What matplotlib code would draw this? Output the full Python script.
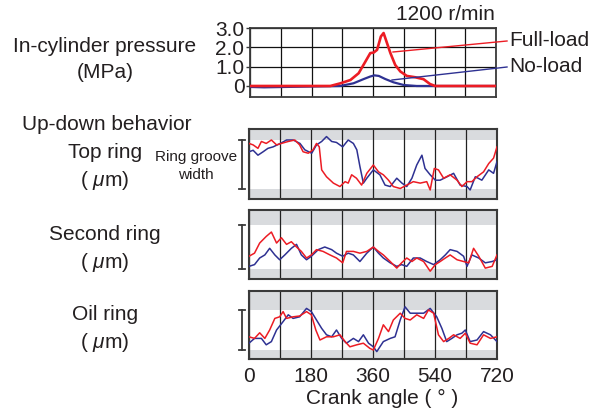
import numpy as np
import matplotlib
matplotlib.use('Agg')
import matplotlib.pyplot as plt
from matplotlib.lines import Line2D
from matplotlib.transforms import blended_transform_factory

plt.rcParams['font.family'] = ['Liberation Sans', 'DejaVu Sans']
plt.rcParams['mathtext.fontset'] = 'custom'
plt.rcParams['mathtext.it'] = 'Liberation Sans:italic'
plt.rcParams['mathtext.rm'] = 'Liberation Sans'

# In-cylinder pressure (MPa) vs crank angle (deg)
p_full_deg = [0, 235, 265, 294, 318, 338, 352, 362, 372, 383, 391, 401, 411,
              425, 440, 459, 484, 508, 527, 542, 720]
p_full = [0, 0, 0.14, 0.31, 0.66, 1.27, 1.70, 1.73, 1.87, 2.56, 2.74, 2.22,
          1.70, 1.09, 0.75, 0.52, 0.45, 0.35, 0.10, 0, 0]
p_no_deg = [0, 41, 264, 303, 333, 352, 364, 377, 396, 420, 450, 488, 527, 720]
p_no = [-0.05, -0.07, 0, 0.14, 0.36, 0.49, 0.55, 0.52, 0.36, 0.19, 0.05, 0, 0, 0]

# ring up-down position, 0 = bottom of groove, 1 = top of groove
top_red_deg = [0, 12, 26, 36, 50, 65, 80, 94, 114, 133, 147, 157, 172, 186,
               196, 204, 211, 225, 245, 264, 279, 288, 298, 312, 327, 342, 361,
               376, 390, 405, 419, 439, 458, 477, 497, 516, 526, 538, 550, 565,
               584, 604, 618, 633, 647, 662, 681, 696, 710, 720]
top_red = [0.93, 0.90, 0.83, 0.97, 0.93, 1.0, 0.90, 0.93, 0.97, 1.0, 0.90,
           0.76, 0.73, 0.80, 0.93, 0.86, 0.39, 0.25, 0.12, 0.05, 0.15, 0.12,
           0.29, 0.22, 0.08, 0.32, 0.49, 0.35, 0.29, 0.18, 0.05, 0.01, 0.08,
           0.15, 0.12, 0.15, -0.02, 0.42, 0.39, 0.22, 0.29, 0.18, 0.05, 0.15,
           0.15, 0.25, 0.35, 0.52, 0.63, 0.86]
top_blue_deg = [0, 12, 26, 41, 55, 70, 91, 109, 128, 148, 162, 182, 196, 211,
                225, 240, 254, 272, 288, 303, 313, 322, 332, 342, 361, 380, 395,
                410, 429, 444, 458, 473, 487, 502, 511, 526, 541, 555, 575, 594,
                613, 633, 642, 657, 676, 696, 710, 720]
top_blue = [0.76, 0.79, 0.69, 0.76, 0.83, 0.86, 0.93, 1.0, 1.0, 0.93, 0.80,
            0.73, 0.90, 0.97, 1.07, 0.97, 0.95, 0.86, 1.0, 0.93, 0.80, 0.46,
            0.12, 0.22, 0.39, 0.29, 0.08, 0.05, 0.22, 0.12, 0.05, 0.22, 0.49,
            0.69, 0.42, 0.29, 0.18, 0.18, 0.25, 0.32, 0.08, 0.05, -0.02, 0.25,
            0.18, 0.39, 0.32, 0.56]

sec_red_deg = [0, 16, 31, 50, 65, 80, 94, 109, 123, 138, 152, 167, 181, 196,
               215, 235, 254, 272, 283, 303, 322, 342, 361, 376, 390, 410, 429,
               443, 458, 473, 487, 507, 526, 541, 555, 570, 584, 604, 623, 638,
               652, 667, 686, 706, 720]
sec_red = [0.29, 0.36, 0.59, 0.74, 0.84, 0.59, 0.71, 0.56, 0.62, 0.50, 0.40,
           0.25, 0.32, 0.44, 0.40, 0.32, 0.25, 0.14, 0.40, 0.40, 0.36, 0.40,
           0.50, 0.40, 0.32, 0.17, 0.02, 0.14, 0.25, 0.17, 0.25, 0.17, -0.05,
           0.10, 0.17, 0.25, 0.32, 0.21, 0.17, 0.14, 0.47, 0.29, 0.02, 0.06,
           0.32]
sec_blue_deg = [0, 16, 31, 46, 60, 75, 89, 104, 123, 138, 152, 167, 181, 201,
                220, 240, 254, 272, 288, 303, 322, 342, 361, 376, 390, 410, 429,
                443, 458, 477, 497, 516, 536, 555, 570, 584, 604, 623, 633, 647,
                667, 686, 706, 720]
sec_blue = [0.06, 0.10, 0.25, 0.32, 0.47, 0.32, 0.21, 0.32, 0.47, 0.56, 0.32,
            0.21, 0.29, 0.44, 0.50, 0.44, 0.36, 0.29, 0.36, 0.32, 0.17, 0.36,
            0.50, 0.36, 0.25, 0.14, 0.06, 0.10, 0.06, 0.25, 0.25, 0.17, 0.10,
            0.21, 0.32, 0.44, 0.40, 0.29, 0.06, 0.32, 0.25, 0.14, 0.17, 0.21]

oil_red_deg = [0, 16, 31, 46, 60, 75, 89, 99, 109, 128, 147, 167, 181, 194,
               206, 225, 245, 264, 279, 293, 313, 332, 351, 361, 376, 390, 405,
               419, 439, 453, 468, 487, 507, 521, 536, 550, 565, 580, 594, 613,
               628, 642, 662, 681, 701, 720]
oil_red = [0.33, 0.29, 0.43, 0.29, 0.50, 0.79, 0.83, 0.96, 0.79, 0.83, 0.85,
           0.96, 0.88, 0.50, 0.25, 0.33, 0.33, 0.38, 0.21, 0.08, 0.13, 0.17,
           0.04, 0.0, 0.29, 0.63, 0.46, 0.75, 0.92, 0.79, 0.75, 0.88, 0.79,
           1.0, 0.92, 0.38, 0.21, 0.29, 0.38, 0.29, 0.42, 0.17, 0.13, 0.38,
           0.29, 0.33]
oil_blue_deg = [0, 16, 36, 50, 65, 80, 99, 114, 128, 147, 167, 181, 196, 211,
                225, 240, 254, 269, 283, 303, 318, 332, 347, 361, 371, 390, 410,
                424, 439, 453, 468, 487, 507, 526, 545, 560, 574, 589, 604, 618,
                628, 642, 662, 681, 701, 720]
oil_blue = [0.17, 0.29, 0.29, 0.13, 0.21, 0.50, 0.71, 0.88, 0.79, 0.83, 1.04,
            0.96, 0.75, 0.54, 0.38, 0.33, 0.50, 0.29, 0.17, 0.29, 0.21, 0.38,
            0.17, 0.08, -0.04, 0.21, 0.29, 0.33, 0.75, 1.08, 0.92, 0.92, 0.92,
            1.04, 0.83, 0.54, 0.21, 0.29, 0.38, 0.42, 0.50, 0.21, 0.25, 0.46,
            0.38, 0.21]

angle_ticks = [0, 180, 360, 540, 720]
p_ticks = [0, 1, 2, 3]
p_ticklabels = ['0', '1.0', '2.0', '3.0']

RED = '#ec1c24'
BLUE = '#2e3192'
GRAY = '#d9dbde'
TXT = '#231f20'
EDGE = '#3a3a3a'

W, H = 599, 412
fig = plt.figure(figsize=(W / 100, H / 100), dpi=100)


def box(l, t, r, b):
    return [l / W, 1 - b / H, (r - l) / W, (b - t) / H]


# pressure panel
axp = fig.add_axes(box(250, 28, 496, 97))
axp.plot(p_no_deg, p_no, color=BLUE, lw=1.6, zorder=3)
axp.plot(p_full_deg, p_full, color=RED, lw=1.9, zorder=4)
axp.set_xlim(0, 720)
axp.set_ylim(-0.57, 3.0)
axp.set_xticks(np.arange(0, 721, 90))
axp.set_yticks(p_ticks)
axp.set_yticklabels(p_ticklabels)
axp.tick_params(axis='x', length=0, labelbottom=False)
axp.tick_params(axis='y', length=3, width=1, pad=1, labelsize=15,
                labelcolor=TXT, color=EDGE)
axp.grid(True, color='#111111', lw=0.9)
axp.set_axisbelow(True)
for s in axp.spines.values():
    s.set_color(EDGE)
    s.set_linewidth(1.3)

# ring panels: (axes top, bottom, bracket top, bracket bottom) in pixels
panels = [
    ((129, 199, 140, 189), top_red_deg, top_red, top_blue_deg, top_blue),
    ((210, 279, 225, 269), sec_red_deg, sec_red, sec_blue_deg, sec_blue),
    ((291, 359, 310, 350), oil_red_deg, oil_red, oil_blue_deg, oil_blue),
]
ring_axes = []
for (t, b, bt, bb), rd, rv, bd, bv in panels:
    ax = fig.add_axes(box(249, t, 497, b))
    span = bb - bt
    ylo = -(b - bb) / span
    yhi = 1 + (bt - t) / span
    ax.axhspan(ylo, 0, color=GRAY, lw=0, zorder=0)
    ax.axhspan(1, yhi, color=GRAY, lw=0, zorder=0)
    ax.plot(bd, bv, color=BLUE, lw=1.1, zorder=3)
    ax.plot(rd, rv, color=RED, lw=1.1, zorder=4)
    ax.set_xlim(0, 720)
    ax.set_ylim(ylo, yhi)
    ax.set_yticks([])
    ax.set_xticks(angle_ticks)
    ax.set_xticks(np.arange(90, 720, 180), minor=True)
    ax.grid(True, axis='x', which='both', color='#222222', lw=0.9, zorder=1)
    ax.set_axisbelow(True)
    ax.tick_params(axis='x', which='both', length=0, labelbottom=False)
    for s in ax.spines.values():
        s.set_color(EDGE)
        s.set_linewidth(1.5)
    # groove width bracket
    tr = blended_transform_factory(ax.transAxes, ax.transData)
    bx = -7 / 248
    cap = 3 / 248
    ax.add_line(Line2D([bx, bx], [0, 1], transform=tr, color=EDGE, lw=1.3,
                       clip_on=False))
    for yy in (0, 1):
        ax.add_line(Line2D([bx - cap, bx + cap], [yy, yy], transform=tr,
                           color=EDGE, lw=1.3, clip_on=False))
    ring_axes.append(ax)

ring_axes[-1].tick_params(axis='x', labelbottom=True, labelsize=15, pad=6,
                          labelcolor=TXT)


def ftext(x, y, s, size=15, ha='center'):
    fig.text(x / W, 1 - y / H, s, fontsize=size, ha=ha, va='center', color=TXT)


ftext(105, 46, 'In-cylinder pressure')
ftext(105, 73, '(MPa)')
ftext(445, 14, '1200 r/min')
ftext(509, 41, 'Full-load', ha='left')
ftext(509, 67, 'No-load', ha='left')
ftext(107, 124, 'Up-down behavior')
ftext(105, 153, 'Top ring')
ftext(105, 181, r'( $\mu$m)')
ftext(196, 157, 'Ring groove', size=11)
ftext(196, 175, 'width', size=11)
ftext(105, 235, 'Second ring')
ftext(105, 263, r'( $\mu$m)')
ftext(105, 315, 'Oil ring')
ftext(105, 342, r'( $\mu$m)')
ftext(382, 398, 'Crank angle ( ° )')

# leader lines to the load labels
fig.add_artist(Line2D([393 / W, 507 / W], [1 - 52 / H, 1 - 41 / H],
                      color=RED, lw=1.0))
fig.add_artist(Line2D([392 / W, 507 / W], [1 - 80 / H, 1 - 67 / H],
                      color=BLUE, lw=1.0))

fig.savefig('out.png', dpi=100)
